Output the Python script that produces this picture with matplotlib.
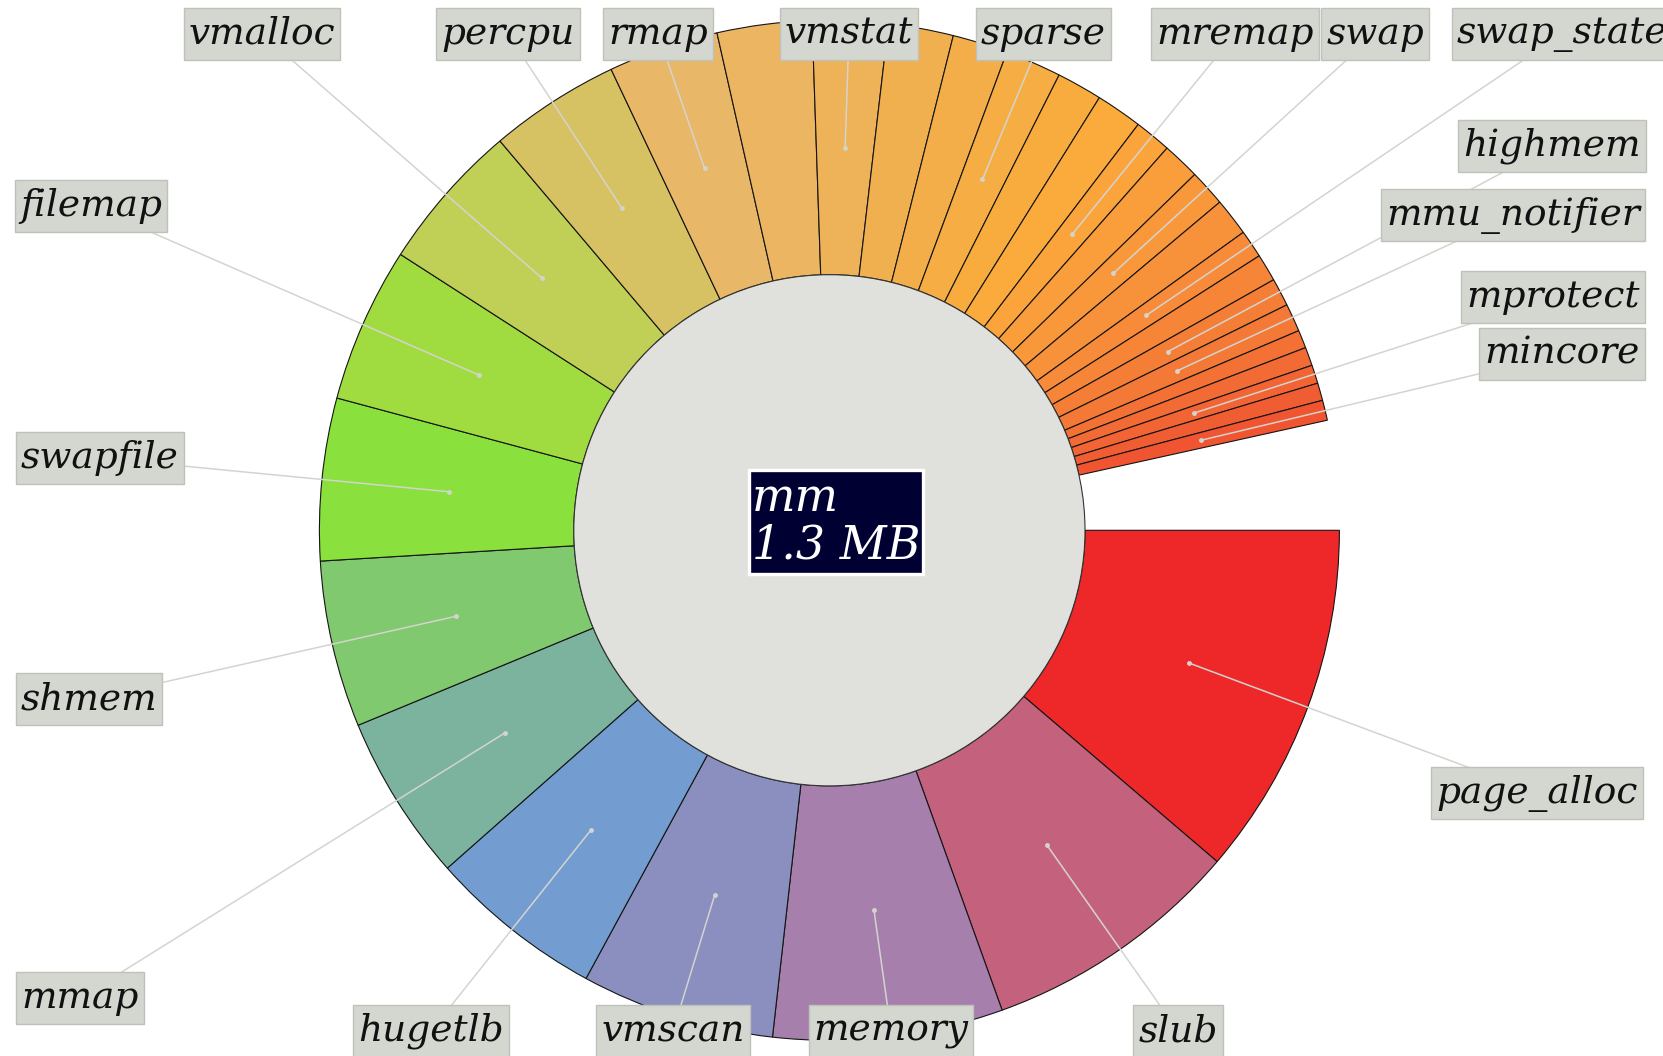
import numpy as np
import matplotlib
matplotlib.use('Agg')
import matplotlib.pyplot as plt
from matplotlib.patches import Wedge, Circle, Rectangle

# mm subsystem, object sizes in KB ('' = slice drawn without a label)
names = ['page_alloc', 'slub', 'memory', 'vmscan', 'hugetlb', 'mmap', 'shmem',
         'swapfile', 'filemap', 'vmalloc', 'percpu', 'rmap', '', 'vmstat', '', '',
         'sparse', '', '', 'mremap', '', 'swap', '', 'swap_state', '', 'highmem',
         'mmu_notifier', '', '', 'mprotect', '', 'mincore']
sizes_kb = [149.8, 109.8, 96.9, 81.7, 74.0, 70.3, 70.3,
            68.4, 65.5, 62.9, 55.1, 46.6, 39.9, 31.8, 27.4, 23.3,
            23.7, 19.2, 19.6, 15.5, 15.9, 15.5, 15.9, 11.8, 11.6, 11.8,
            11.8, 7.6, 7.8, 7.8, 7.4, 8.5]
colors = ['#ee2828', '#c4627d', '#a67fad', '#8a8fbf', '#739dd0', '#7bb39f', '#80c96e',
          '#8ae03c', '#a0db40', '#c0cf55', '#d6c262', '#e8b868', '#ecb562', '#eeb258',
          '#f1b050', '#f3ae4a', '#f6ad44', '#f9ac3e', '#fbaa3c', '#fba43b', '#fa9e3b',
          '#f9983a', '#f8923a', '#f78b39', '#f68538', '#f57e37', '#f47836', '#f37135',
          '#f26b34', '#f26433', '#f15d32', '#f05430']
total_kb = 1.3 * 1024
parent = 'mm'

# centre of each label box (pixel coords, y down)
label_pos = {
    'vmalloc': (262, 34), 'percpu': (508, 34), 'rmap': (658, 34),
    'vmstat': (849, 34), 'sparse': (1043, 34), 'mremap': (1235, 34),
    'swap': (1375, 34), 'swap_state': (1562, 34),
    'highmem': (1552, 146), 'mmu_notifier': (1513, 215),
    'mprotect': (1553, 297), 'mincore': (1562, 354),
    'page_alloc': (1537, 793),
    'filemap': (91, 206), 'swapfile': (100, 458), 'shmem': (89, 699),
    'mmap': (80, 998), 'hugetlb': (431, 1031), 'vmscan': (673, 1031),
    'memory': (891, 1031), 'slub': (1178, 1031),
}

W, H = 1663, 1056
fig = plt.figure(figsize=(W / 100, H / 100), dpi=100)
ax = fig.add_axes([0, 0, 1, 1])
ax.set_xlim(0, W)
ax.set_ylim(H, 0)
ax.set_aspect('equal')
ax.axis('off')

cx, cy = 829.4, 530.3
r_in, r_out = 255.6, 510
r_mid = (r_in + r_out) / 2
deg_per_kb = 360 / total_kb
serif = dict(family='DejaVu Serif', style='italic')

labels = []
start = 0.0
for name, size, col in zip(names, sizes_kb, colors):
    span = size * deg_per_kb
    ax.add_patch(Wedge((cx, cy), r_out, start, start + span, width=r_out - r_in,
                       facecolor=col, edgecolor='#151515', lw=0.8, zorder=1))
    if name:
        mid = np.radians(start + span / 2)
        px, py = cx + r_mid * np.cos(mid), cy + r_mid * np.sin(mid)
        lx, ly = label_pos[name]
        ax.plot([px, lx], [py, ly], color='#d4d4ce', lw=1.1, zorder=3)
        ax.plot(px, py, 'o', ms=2.5, color='#d4d4ce', zorder=3)
        t = ax.text(lx, ly, name, ha='center', va='center', color='#111111',
                    fontsize=27, zorder=5, **serif)
        labels.append(t)
    start += span

ax.add_patch(Circle((cx, cy), r_in, facecolor='#e0e1dd', edgecolor='#333333', lw=0.8, zorder=2))
center = ax.text(836, 522, f"{parent}\n{total_kb / 1024:.1f} MB", ha='center', va='center',
                 multialignment='left', color='white', fontsize=33, linespacing=1.05,
                 zorder=7, **serif)

# boxes behind the texts, sized from the rendered text extents
fig.canvas.draw()
renderer = fig.canvas.get_renderer()
inv = ax.transData.inverted()


def box_behind(t, padx, box_h=None, pady=0, **kw):
    bb = t.get_window_extent(renderer)
    (x0, y0), (x1, y1) = inv.transform([(bb.x0, bb.y0), (bb.x1, bb.y1)])
    top, bot = min(y0, y1), max(y0, y1)
    if box_h is not None:
        mid = (top + bot) / 2
        top, bot = mid - box_h / 2, mid + box_h / 2
    else:
        top, bot = top - pady, bot + pady
    ax.add_patch(Rectangle((x0 - padx, top), (x1 - x0) + 2 * padx, bot - top, **kw))


for t in labels:
    box_behind(t, 5, box_h=52, facecolor='#d4d7d0', edgecolor='#bfc2bb', lw=1, zorder=4)
box_behind(center, 3, pady=6, facecolor='#000033', edgecolor='white', lw=2.4, zorder=6)

fig.savefig('out.png', dpi=100, facecolor='white')
